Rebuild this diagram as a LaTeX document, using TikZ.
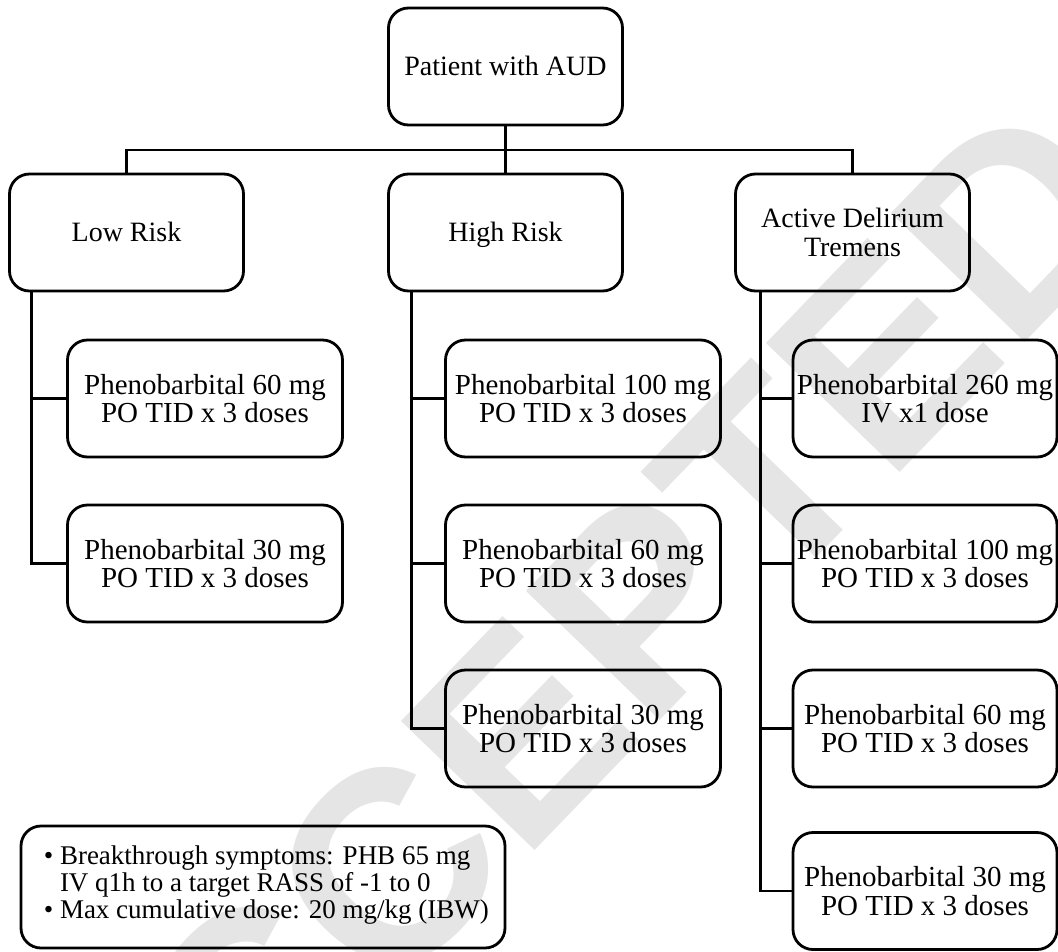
\documentclass[tikz,border=0pt]{standalone}
\usepackage{fontspec}
\setmainfont{Liberation Serif}
\newfontfamily\wmfont{Liberation Sans}
\definecolor{wmgray}{RGB}{229,229,229}
\begin{document}
\begin{tikzpicture}[x=1pt,y=1pt,
  box/.style={draw=black, line width=2.8pt, rounded corners=20pt, align=center,
    inner sep=0pt, font=\fontsize{28}{28.5}\selectfont},
  topbox/.style={box, minimum width=234pt, minimum height=117pt},
  oneline/.style={text height=18.5pt, text depth=0pt},
  childbox/.style={box, minimum width=275pt, minimum height=117pt,
    font=\fontsize{29}{28.5}\selectfont},
  adtbox/.style={childbox, minimum width=264pt},
  notetext/.style={align=left, inner sep=0pt, font=\fontsize{27}{27}\selectfont},
  link/.style={draw=black, line width=2.8pt},
]
\useasboundingbox (0,0) rectangle (1058,-951);
\fill[white] (0,0) rectangle (1058,-951);
\begin{scope}
  \clip (0,0) rectangle (1058,-951);
  \node[text=wmgray, font=\wmfont\bfseries\fontsize{270}{270}\selectfont, rotate=46, inner sep=0pt] (wmark) at (565,-685) {ACCEPTED};
\end{scope}

% root and level 2
\node[topbox, oneline] (root) at (505.5,-66.5) {Patient with AUD};
\node[topbox, oneline] (low) at (126.5,-232.5) {Low Risk};
\node[topbox, oneline] (high) at (505.5,-232.5) {High Risk};
\node[topbox] (adt) at (852.5,-232.5) {Active Delirium\\Tremens};

% children
\node[childbox] (l1) at (205,-398.5) {Phenobarbital 60 mg\\PO TID x 3 doses};
\node[childbox] (l2) at (205,-563.5) {Phenobarbital 30 mg\\PO TID x 3 doses};
\node[childbox] (h1) at (583,-398.5) {Phenobarbital 100 mg\\PO TID x 3 doses};
\node[childbox] (h2) at (583,-563.5) {Phenobarbital 60 mg\\PO TID x 3 doses};
\node[childbox] (h3) at (583,-728.5) {Phenobarbital 30 mg\\PO TID x 3 doses};
\node[adtbox] (a1) at (925,-398.5) {Phenobarbital 260 mg\\IV x1 dose};
\node[adtbox] (a2) at (925,-563.5) {Phenobarbital 100 mg\\PO TID x 3 doses};
\node[adtbox] (a3) at (925,-728.5) {Phenobarbital 60 mg\\PO TID x 3 doses};
\node[adtbox] (a4) at (925,-891) {Phenobarbital 30 mg\\PO TID x 3 doses};

% note
\node[box, minimum width=484pt, minimum height=122pt] (note) at (263,-887) {};
\node[notetext, anchor=north west] (notetxt) at ([xshift=24pt,yshift=-21pt]note.north west)
  {\textbullet\ Breakthrough symptoms: PHB 65 mg\\
   \hphantom{\textbullet\ }IV q1h to a target RASS of -1 to 0\\
   \textbullet\ Max cumulative dose: 20 mg/kg (IBW)};

% bus connectors
\coordinate (bj) at (505.5,-150);
\draw[link] (root.south) -- (bj);
\draw[link] (low.north) -- (low.north |- bj) -- (adt.north |- bj) -- (adt.north);
\draw[link] (bj) -- (high.north);

% branch connectors
\coordinate (lv) at ([xshift=23pt]low.south west);
\coordinate (hv) at ([xshift=24pt]high.south west);
\coordinate (av) at ([xshift=26pt]adt.south west);
\draw[link] (lv) |- (l1.west);
\draw[link] (lv) |- (l2.west);
\draw[link] (hv) |- (h1.west);
\draw[link] (hv) |- (h2.west);
\draw[link] (hv) |- (h3.west);
\draw[link] (av) |- (a1.west);
\draw[link] (av) |- (a2.west);
\draw[link] (av) |- (a3.west);
\draw[link] (av) |- (a4.west);
\end{tikzpicture}
\end{document}
